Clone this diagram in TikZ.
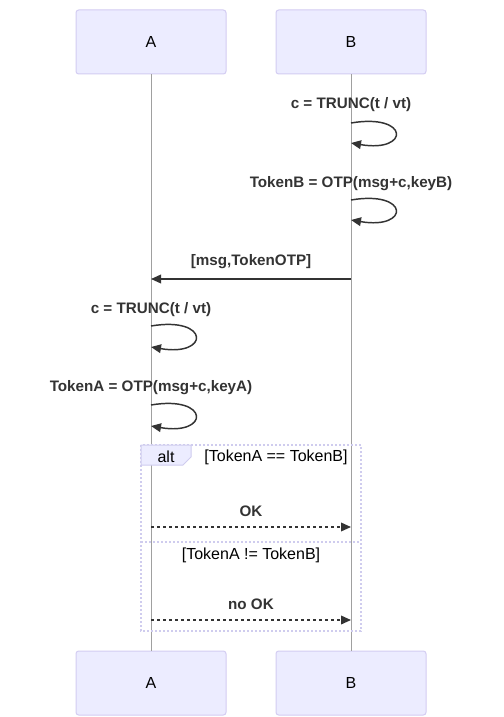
\documentclass[tikz,border=0pt]{standalone}
\usepackage{fontspec}
\setmainfont{Liberation Sans}
\usetikzlibrary{arrows.meta}

\definecolor{actfill}{HTML}{ECECFF}
\definecolor{actline}{HTML}{D3CCF2}
\definecolor{msgcol}{HTML}{333333}
\definecolor{lifecol}{HTML}{A0A0A0}
\definecolor{altline}{HTML}{CFCCEE}

\tikzset{
  actor/.style={draw=actline, fill=actfill, rounded corners=2pt, line width=0.75pt,
    minimum width=112.5pt, minimum height=48pt, font=\fontsize{12}{14}\selectfont},
  life/.style={draw=lifecol, line width=0.6pt},
  msg/.style={draw=msgcol, line width=1.1pt},
  reply/.style={msg, dash pattern=on 2.25pt off 2.25pt},
  msgtext/.style={font=\fontsize{11.4}{14}\selectfont\bfseries, text=msgcol, inner sep=0pt},
  guard/.style={font=\fontsize{12}{14}\selectfont, text=black, inner sep=0pt},
  frame/.style={draw=altline, line width=1.3pt, dash pattern=on 1.5pt off 1.5pt},
}

\begin{document}
\begin{tikzpicture}[x=0.75pt, y=-0.75pt, >={Triangle[length=7.5pt,width=6.5pt]}]
  \useasboundingbox (0,0) rectangle (503,717);

  % Actors, top and bottom
  \node[actor] (A) at (151,42) {A};
  \node[actor] (B) at (351,42) {B};
  \node[actor] (Abot) at (151,683) {A};
  \node[actor] (Bbot) at (351,683) {B};

  % Lifelines
  \draw[life] (A) -- (Abot);
  \draw[life] (B) -- (Bbot);

  % B computes counter and token
  \node[msgtext] (m1) at (351,105) {c = TRUNC(t / vt)};
  \coordinate (b1s) at (351,123);
  \coordinate (b1e) at (351,143);
  \draw[msg,->] (b1s) .. controls +(59,-10) and +(59,10) .. (b1e);

  \node[msgtext] (m2) at (351,184) {TokenB = OTP(msg+c,keyB)};
  \coordinate (b2s) at (351,200);
  \coordinate (b2e) at (351,220);
  \draw[msg,->] (b2s) .. controls +(59,-10) and +(59,10) .. (b2e);

  % B sends message to A
  \coordinate (b3) at (351,279);
  \coordinate (a3) at (151,279);
  \draw[msg,->] (b3) -- (a3);
  \node[msgtext] (m3) at (251,262) {[msg,TokenOTP]};

  % A recomputes
  \node[msgtext] (m4) at (151,310) {c = TRUNC(t / vt)};
  \coordinate (a4s) at (151,326);
  \coordinate (a4e) at (151,347);
  \draw[msg,->] (a4s) .. controls +(59,-10) and +(59,10) .. (a4e);

  \node[msgtext] (m5) at (151,388) {TokenA = OTP(msg+c,keyA)};
  \coordinate (a5s) at (151,405);
  \coordinate (a5e) at (151,426);
  \draw[msg,->] (a5s) .. controls +(59,-10) and +(59,10) .. (a5e);

  % alt block
  \draw[frame] (141,445) rectangle (361,631);
  \draw[frame] (141,542) -- (361,542);
  \draw[draw=altline, fill=actfill, line width=0.75pt]
    (141,445) -- (191,445) -- (191,457) -- (183,465) -- (141,465) -- cycle;
  \node[guard] (alt) at (166,457) {alt};
  \node[guard] (g1) at (276,457) {[TokenA == TokenB]};
  \node[guard] (g2) at (251,555) {[TokenA != TokenB]};

  % replies
  \coordinate (a6) at (151,527);
  \coordinate (b6) at (351,527);
  \draw[reply,->] (a6) -- (b6);
  \node[msgtext] (m6) at (251,511) {OK};

  \coordinate (a7) at (151,620);
  \coordinate (b7) at (351,620);
  \draw[reply,->] (a7) -- (b7);
  \node[msgtext] (m7) at (251,604) {no OK};
\end{tikzpicture}
\end{document}
